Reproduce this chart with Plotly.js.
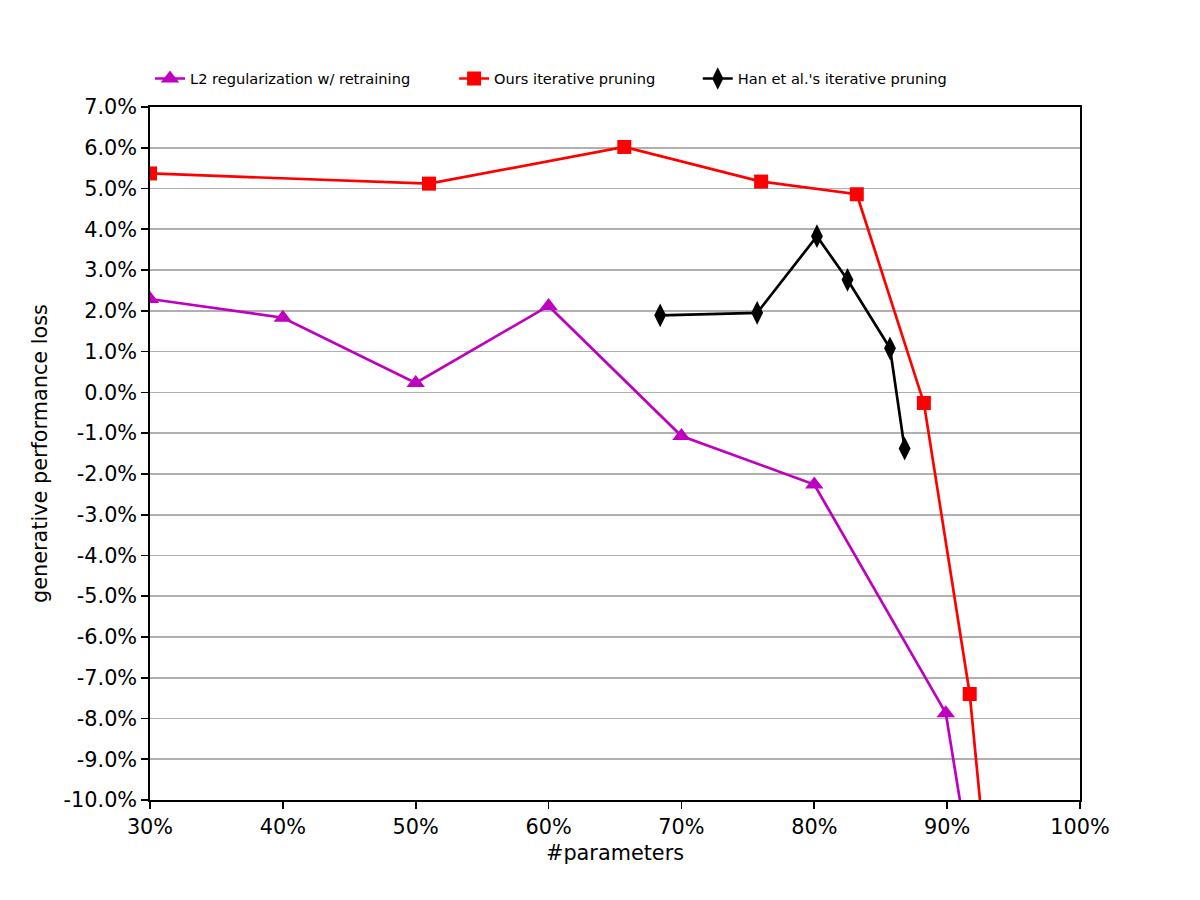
<!DOCTYPE html>
<html>
<head>
<meta charset="utf-8">
<script src="https://cdn.plot.ly/plotly-3.0.1.min.js"></script>
<style>html,body{margin:0;padding:0;background:#fff;}#chart{width:1200px;height:900px;}</style>
</head>
<body>
<div id="chart"></div>
<script>
// Data (x: % of parameters pruned, y: generative performance loss in %)
const l2X = [30, 40, 50, 60, 70, 80, 89.9, 92];
const l2Y = [2.29, 1.83, 0.23, 2.12, -1.07, -2.26, -7.87, -12.1];

const oursX = [30, 51.0, 65.7, 76.0, 83.2, 88.25, 91.7, 93];
const oursY = [5.37, 5.12, 6.02, 5.17, 4.86, -0.26, -7.40, -11.8];

const hanX = [68.4, 75.7, 80.2, 82.5, 85.7, 86.8];
const hanY = [1.89, 1.95, 3.83, 2.76, 1.08, -1.38];

const seriesNames = ["L2 regularization w/ retraining", "Ours iterative pruning", "Han et al.'s iterative pruning"];

const xTickVals = [30, 40, 50, 60, 70, 80, 90, 100];
const xTickText = ["30%", "40%", "50%", "60%", "70%", "80%", "90%", "100%"];
const yTickVals = [7, 6, 5, 4, 3, 2, 1, 0, -1, -2, -3, -4, -5, -6, -7, -8, -9, -10];
const yTickText = ["7.0%", "6.0%", "5.0%", "4.0%", "3.0%", "2.0%", "1.0%", "0.0%", "-1.0%", "-2.0%", "-3.0%", "-4.0%", "-5.0%", "-6.0%", "-7.0%", "-8.0%", "-9.0%", "-10.0%"];

const FONT = "DejaVu Sans, Liberation Sans, sans-serif";

const traces = [
  {x: l2X, y: l2Y, name: seriesNames[0], mode: "lines+markers", type: "scatter", legend: "legend",
   line: {color: "#bf00bf", width: 2.7}, marker: {symbol: "triangle-up", size: 16, color: "#bf00bf"}},
  {x: oursX, y: oursY, name: seriesNames[1], mode: "lines+markers", type: "scatter", legend: "legend2",
   line: {color: "#ff0000", width: 2.7}, marker: {symbol: "square", size: 14, color: "#ff0000"}},
  {x: hanX, y: hanY, name: seriesNames[2], mode: "lines+markers", type: "scatter", legend: "legend3",
   line: {color: "#000000", width: 2.7}, marker: {symbol: "diamond-tall", size: 17, color: "#000000"}}
];

function legendAt(xp) {
  return {orientation: "h", x: xp, xanchor: "left", y: 1.018, yanchor: "bottom",
          font: {family: FONT, size: 14.6, color: "#000"}, bgcolor: "rgba(0,0,0,0)"};
}

const layout = {
  width: 1200, height: 900,
  paper_bgcolor: "#fff", plot_bgcolor: "#fff",
  margin: {l: 150, r: 120, t: 107, b: 100},
  font: {family: FONT, size: 20.8, color: "#000"},
  showlegend: true,
  legend: legendAt(0.0),
  legend2: legendAt(0.327),
  legend3: legendAt(0.589),
  xaxis: {
    range: [30, 100], tickvals: xTickVals, ticktext: xTickText,
    showgrid: false, zeroline: false,
    showline: true, linecolor: "#000", linewidth: 1.7, mirror: true,
    ticks: "outside", ticklen: 7, tickwidth: 1.7, tickcolor: "#000",
    title: {text: "#parameters", font: {family: FONT, size: 20.8}, standoff: 8}
  },
  yaxis: {
    range: [-10, 7], tickvals: yTickVals, ticktext: yTickText,
    showgrid: true, gridcolor: "#b0b0b0", gridwidth: 1.7, zeroline: false,
    showline: true, linecolor: "#000", linewidth: 1.7, mirror: true,
    ticks: "outside", ticklen: 7, tickwidth: 1.7, tickcolor: "#000",
    title: {text: "generative performance loss", font: {family: FONT, size: 20.8}, standoff: 10}
  }
};

Plotly.newPlot("chart", traces, layout, {displayModeBar: false, staticPlot: true});
</script>
</body>
</html>
